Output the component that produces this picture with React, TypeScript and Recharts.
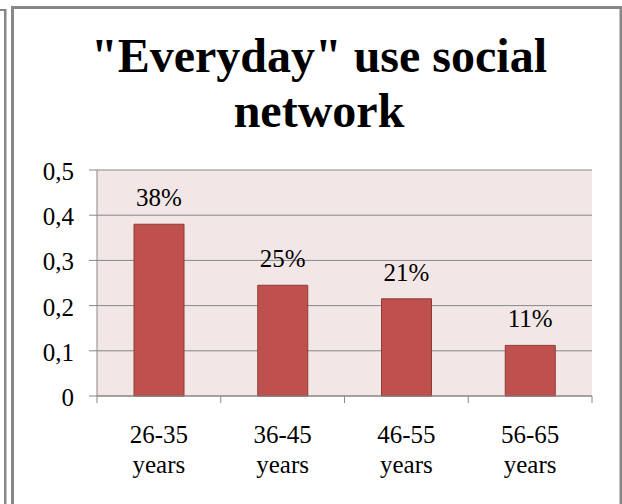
import React from 'react';
import { BarChart, Bar, XAxis, YAxis, CartesianGrid, LabelList } from 'recharts';

const categories = ['26-35', '36-45', '46-55', '56-65'];
const unitLabel = 'years';
const shares = [0.38, 0.245, 0.215, 0.112];
const shareLabels = ['38%', '25%', '21%', '11%'];
const yTicks = [0, 0.1, 0.2, 0.3, 0.4, 0.5];
const titleLines = ['"Everyday" use social', 'network'];

const data = categories.map((c, i) => ({ name: c, value: shares[i], label: shareLabels[i] }));

const W = 622;
const H = 504;
const xAxisHeight = 30;
const margin = { top: 170, right: 30, bottom: 108 - xAxisHeight, left: 0 };
const yAxisWidth = 97;
const plotW = W - margin.right - margin.left - yAxisWidth;
const halfBand = plotW / categories.length / 2;

const SERIF = '"Liberation Serif", "Times New Roman", serif';
const GRAY = '#878787';

function XTick(props: any) {
  const { x, y, index } = props;
  const isLast = index === categories.length - 1;
  return (
    <g>
      <line x1={x - halfBand} x2={x - halfBand} y1={y} y2={y + 7} stroke={GRAY} strokeWidth={1} />
      {isLast && (
        <line x1={x + halfBand} x2={x + halfBand} y1={y} y2={y + 7} stroke={GRAY} strokeWidth={1} />
      )}
      <text x={x} y={y + 47} textAnchor="middle" fontFamily={SERIF} fontSize={25} fill="#000">
        {props.payload.value}
      </text>
      <text x={x} y={y + 77} textAnchor="middle" fontFamily={SERIF} fontSize={25} fill="#000">
        {unitLabel}
      </text>
    </g>
  );
}

function YTick(props: any) {
  const { x, y, payload } = props;
  const v = payload.value;
  const txt = v === 0 ? '0' : String(v).replace('.', ',');
  return (
    <text x={x} y={y} dy={10} textAnchor="end" fontFamily={SERIF} fontSize={25} fill="#000">
      {txt}
    </text>
  );
}

export default function App() {
  return (
    <div style={{ position: 'absolute', left: 0, top: 0, width: W, height: H, background: '#fff' }}>
      <BarChart width={W} height={H} data={data} margin={margin}>
        <CartesianGrid vertical={false} stroke={GRAY} fill="#F2E7E6" fillOpacity={1} />
        <XAxis
          dataKey="name"
          height={xAxisHeight}
          axisLine={{ stroke: GRAY, strokeWidth: 1 }}
          tickLine={false}
          tickSize={0}
          tickMargin={0}
          interval={0}
          tick={<XTick />}
        />
        <YAxis
          width={yAxisWidth}
          domain={[0, 0.5]}
          ticks={yTicks}
          interval={0}
          axisLine={{ stroke: GRAY, strokeWidth: 1 }}
          tickLine={{ stroke: GRAY, strokeWidth: 1 }}
          tickSize={8}
          tickMargin={15}
          tick={<YTick />}
        />
        <Bar dataKey="value" fill="#C0504D" stroke="#8C3B39" strokeWidth={1} barSize={50} isAnimationActive={false}>
          <LabelList dataKey="label" position="top" offset={18} fill="#000" fontSize={25} fontFamily={SERIF} />
        </Bar>
      </BarChart>
      <svg
        width={W}
        height={H}
        style={{ position: 'absolute', left: 0, top: 0, pointerEvents: 'none' }}
      >
        <rect x={0} y={9} width={6} height={2} fill={GRAY} />
        <rect x={4} y={9} width={2.5} height={H - 9} fill={GRAY} />
        <rect x={11} y={6} width={3} height={H - 6} fill={GRAY} />
        <rect x={11} y={6} width={W - 11} height={3} fill={GRAY} />
        <rect x={619.5} y={6} width={2.5} height={H - 6} fill={GRAY} />
        {titleLines.map((t, i) => (
          <text
            key={i}
            x={319}
            y={72 + i * 55}
            textAnchor="middle"
            fontFamily={SERIF}
            fontWeight="bold"
            fontSize={48}
            fill="#000"
          >
            {t}
          </text>
        ))}
      </svg>
    </div>
  );
}
